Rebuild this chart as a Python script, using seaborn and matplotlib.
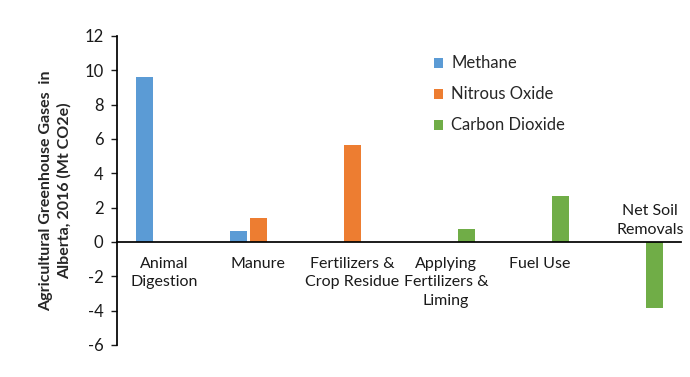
import pandas as pd
import matplotlib.pyplot as plt
import seaborn as sns

# data (Mt CO2e)
categories = ['Animal\nDigestion', 'Manure', 'Fertilizers &\nCrop Residue',
              'Applying\nFertilizers &\nLiming', 'Fuel Use', 'Net Soil\nRemovals']
gases = ['Methane', 'Nitrous Oxide', 'Carbon Dioxide']
methane = [9.6, 0.65, 0, 0, 0, 0]
nitrous = [0, 1.4, 5.65, 0, 0, 0]
carbon = [0, 0, 0, 0.75, 2.7, -3.85]
colors = ['#5B9BD5', '#ED7D31', '#70AD47']

rows = []
for i, cat in enumerate(categories):
    for g, vals in zip(gases, [methane, nitrous, carbon]):
        rows.append({'category': cat, 'gas': g, 'value': vals[i]})
df = pd.DataFrame(rows)

sns.set_theme(style='white')
plt.rcParams['font.family'] = ['Lato', 'DejaVu Sans']
plt.rcParams['axes.unicode_minus'] = False

fig = plt.figure(figsize=(6.9, 3.77), dpi=100)
ax = fig.add_axes([0.170, 0.085, 0.817, 0.82])

sns.barplot(data=df, x='category', y='value', hue='gas', order=categories,
            hue_order=gases, palette=colors, width=0.64, gap=0.15,
            linewidth=0, saturation=1, ax=ax)

ax.set_ylim(-6, 12)
ax.set_xlim(-0.5, len(categories) - 0.5)
ax.set_yticks(range(-6, 13, 2))
ax.tick_params(axis='y', labelsize=12, colors='#1a1a1a', length=4,
               width=1, direction='out', left=True, pad=6)
ax.set_xticks([])
ax.set_xlabel('')
ax.set_ylabel('Agricultural Greenhouse Gases  in\nAlberta, 2016 (Mt CO2e)',
              fontsize=11.5, fontweight='bold', labelpad=9, linespacing=1.35)

for s in ['top', 'right']:
    ax.spines[s].set_visible(False)
ax.spines['left'].set_color('black')
ax.spines['bottom'].set_position(('data', 0))
ax.spines['bottom'].set_color('black')

# category labels sit below the zero line, except the negative one
vals_all = [m + n + c for m, n, c in zip(methane, nitrous, carbon)]
for i, cat in enumerate(categories):
    if vals_all[i] < 0:
        ax.text(i + 0.17, 0.3, cat, ha='center', va='bottom', fontsize=11.5,
                linespacing=1.45, color='#1a1a1a')
    else:
        ax.text(i, -0.85, cat, ha='center', va='top', fontsize=11.5,
                linespacing=1.45, color='#1a1a1a')

ax.legend(frameon=False, fontsize=12, handlelength=0.55, handleheight=0.55,
          labelspacing=0.9, handletextpad=0.5, loc='upper left',
          bbox_to_anchor=(0.535, 0.985))

fig.savefig('out.png', dpi=100)
